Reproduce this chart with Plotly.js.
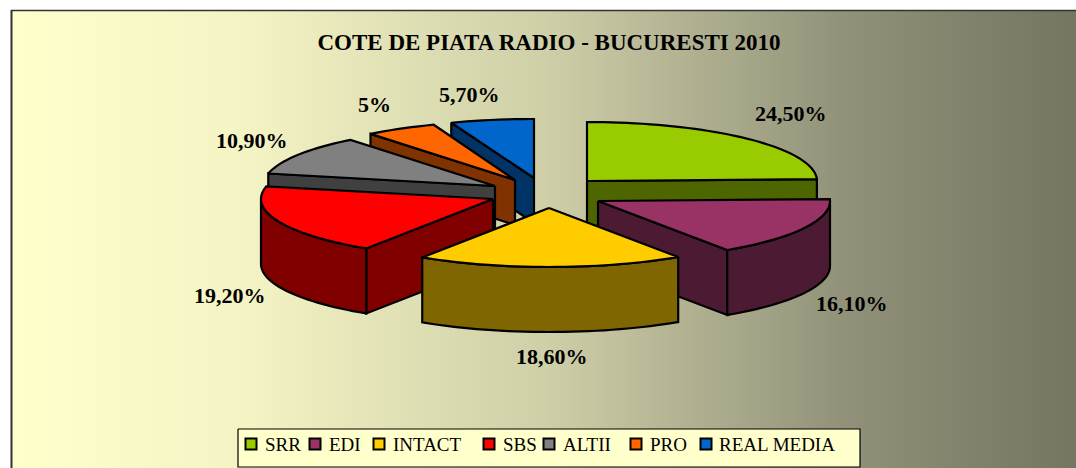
<!DOCTYPE html>
<html>
<head>
<meta charset="utf-8">
<script src="https://cdn.plot.ly/plotly-3.0.1.min.js"></script>
<style>html,body{margin:0;padding:0;background:#fff}#chart{width:1076px;height:468px}</style>
</head>
<body>
<div id="chart"></div>
<script>
// --- data ---
var categories = ['SRR', 'EDI', 'INTACT', 'SBS', 'ALTII', 'PRO', 'REAL MEDIA'];
var shares = [24.5, 16.1, 18.6, 19.2, 10.9, 5, 5.7];
var shareLabels = ['24,50%', '16,10%', '18,60%', '19,20%', '10,90%', '5%', '5,70%'];

// --- drawing parameters ---
var topColors = ['#99CC00', '#993366', '#FFCC00', '#FF0000', '#808080', '#FF6600', '#0066CC'];
var wallColors = ['#4D6600', '#4D1A33', '#806600', '#800000', '#404040', '#803300', '#003366'];
var apexX = [587, 598, 549, 493, 495, 515, 534];
var apexY = [181, 201, 208, 199, 186, 180, 178];
var radiusX = [230, 232, 232, 232, 232, 232, 236];
var depth = [45, 65, 65, 65, 45, 45, 45];
var paintOrder = [6, 5, 4, 0, 3, 1, 2];
var labelX = [791, 852, 552, 230, 252, 374, 469];
var labelY = [113, 303, 356, 295, 140, 104, 94];
var swatchX = [251, 315, 379, 489, 549, 636, 706];
var nameX = [265, 329, 393, 503, 563, 650, 719];
var RY = 59, LEGEND_Y = 444;

function rad(d) { return d * Math.PI / 180; }
function px(i, a) { return apexX[i] + radiusX[i] * Math.sin(rad(a)); }
function py(i, a) { return apexY[i] - RY * Math.cos(rad(a)); }

function poly(name, xs, ys, fill, width) {
  return { type: 'scatter', mode: 'lines', name: name, x: xs.concat([xs[0]]), y: ys.concat([ys[0]]),
    fill: 'toself', fillcolor: fill, line: { color: '#000', width: width || 2.2, simplify: false },
    hoverinfo: 'skip', showlegend: false };
}
function wall(i, a) {
  return poly(categories[i] + ' side', [apexX[i], px(i, a), px(i, a), apexX[i]],
    [apexY[i], py(i, a), py(i, a) + depth[i], apexY[i] + depth[i]], wallColors[i]);
}

var starts = [], run = 0;
shares.forEach(function (s) { starts.push(run); run += s * 3.6; });

var traces = [{
  type: 'scatter', mode: 'lines', name: 'background',
  x: [12, 1076, 1076, 12, 12], y: [11, 11, 468, 468, 11], fill: 'toself',
  fillgradient: { type: 'horizontal', colorscale: [[0, '#FFFFCC'], [0.22, '#F3F3C4'], [0.5, '#CFCFA8'], [0.78, '#92927A'], [1, '#757560']] },
  line: { width: 0 }, hoverinfo: 'skip', showlegend: false
}];

paintOrder.forEach(function (i) {
  var a = starts[i], b = a + shares[i] * 3.6;
  if (Math.sin(rad(a)) < -1e-6) traces.push(wall(i, a));
  if (Math.sin(rad(b)) > 1e-6) traces.push(wall(i, b));
  var lo = Math.max(a, 90), hi = Math.min(b, 270);
  if (hi > lo) {
    var xs = [], ys = [], d;
    for (d = lo; d < hi; d += 2) { xs.push(px(i, d)); ys.push(py(i, d)); }
    xs.push(px(i, hi)); ys.push(py(i, hi));
    for (d = xs.length - 1; d >= 0; d--) { xs.push(xs[d]); ys.push(ys[d] + depth[i]); }
    traces.push(poly(categories[i] + ' rim', xs, ys, wallColors[i]));
  }
  var tx = [apexX[i]], ty = [apexY[i]];
  for (var t = a; t < b; t += 2) { tx.push(px(i, t)); ty.push(py(i, t)); }
  tx.push(px(i, b)); ty.push(py(i, b));
  traces.push(poly(categories[i], tx, ty, topColors[i]));
});

// legend box and swatches
traces.push(poly('legend box', [238, 860, 860, 238], [429, 429, 467, 467], '#FFFFCC', 1.2));
traces.push({
  type: 'scatter', mode: 'markers', name: 'legend swatches', x: swatchX,
  y: swatchX.map(function () { return LEGEND_Y; }),
  marker: { symbol: 'square', size: 11, color: topColors, line: { color: '#000', width: 2 } },
  hoverinfo: 'skip', showlegend: false
});

var annotations = [];
shareLabels.forEach(function (t, i) {
  annotations.push({ x: labelX[i], y: labelY[i], text: '<b>' + t + '</b>', showarrow: false, xanchor: 'center', yanchor: 'middle',
    font: { family: 'Liberation Serif', size: 22, color: '#000' } });
});
categories.forEach(function (c, i) {
  annotations.push({ x: nameX[i], y: LEGEND_Y, text: c, showarrow: false, xanchor: 'left', yanchor: 'middle', xshift: -2,
    font: { family: 'Liberation Serif', size: 19, color: '#000' } });
});

var layout = {
  width: 1076, height: 468, margin: { l: 0, r: 0, t: 0, b: 0 }, showlegend: false,
  paper_bgcolor: '#fff', plot_bgcolor: 'rgba(0,0,0,0)',
  title: { text: '<b>COTE DE PIATA RADIO - BUCURESTI 2010</b>', x: 549 / 1076, xanchor: 'center', y: 1 - 42 / 468, yanchor: 'middle',
    font: { family: 'Liberation Serif', size: 23, color: '#000' } },
  xaxis: { range: [0, 1076], visible: false, fixedrange: true },
  yaxis: { range: [468, 0], visible: false, fixedrange: true },
  annotations: annotations,
  shapes: [
    { type: 'line', x0: 11.5, x1: 11.5, y0: 10, y1: 468, line: { color: '#333', width: 2 } },
    { type: 'line', x0: 11, x1: 1076, y0: 10.5, y1: 10.5, line: { color: '#333', width: 1.6 } }
  ]
};
Plotly.newPlot('chart', traces, layout, { displayModeBar: false, staticPlot: true });
</script>
</body>
</html>
